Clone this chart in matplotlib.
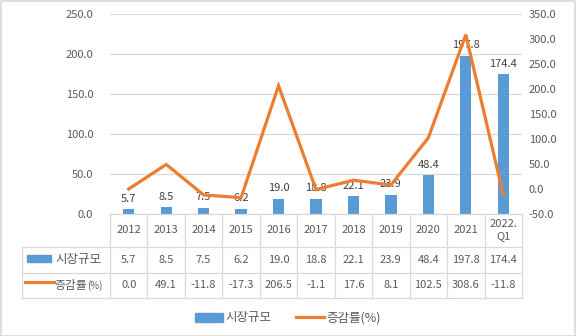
import matplotlib
matplotlib.use("Agg")
import matplotlib.pyplot as plt
from matplotlib.patches import Patch, Rectangle
from matplotlib.lines import Line2D

plt.rcParams['font.family'] = ['Noto Sans CJK KR', 'DejaVu Sans']

# --- data ---
years = ["2012", "2013", "2014", "2015", "2016", "2017", "2018", "2019", "2020", "2021", "2022.\nQ1"]
market_size = [5.7, 8.5, 7.5, 6.2, 19.0, 18.8, 22.1, 23.9, 48.4, 197.8, 174.4]
growth_rate = [0.0, 49.1, -11.8, -17.3, 206.5, -1.1, 17.6, 8.1, 102.5, 308.6, -11.8]

bar_name = "시장규모"
line_name = "증감률(%)"

BLUE = "#5B9BD5"
ORANGE = "#ED7D31"
GRID = "#D9D9D9"
TXT = "#595959"

W, H = 576, 336
fig = plt.figure(figsize=(W / 100, H / 100), dpi=100)

# plot area in pixels
left, right, top, bottom = 110, 522, 14, 214
ax = fig.add_axes([left / W, 1 - bottom / H, (right - left) / W, (bottom - top) / H])
ax2 = ax.twinx()

x = list(range(len(years)))
ax.bar(x, market_size, width=0.3, color=BLUE, zorder=2)
ax2.plot(x, growth_rate, color=ORANGE, linewidth=2.3, solid_joinstyle="miter", zorder=3)

for xi, v in zip(x, market_size):
    ax.annotate(f"{v:.1f}", (xi, v), xytext=(0, 4), textcoords="offset points",
                ha="center", va="bottom", fontsize=8, color="#404040", zorder=4)

ax.set_xlim(-0.5, len(years) - 0.5)
ax.set_ylim(0, 250)
ax.set_yticks(range(0, 251, 50))
ax.set_yticklabels([f"{v:.1f}" for v in range(0, 251, 50)])
ax2.set_ylim(-50, 350)
ax2.set_yticks(range(-50, 351, 50))
ax2.set_yticklabels([f"{v:.1f}" for v in range(-50, 351, 50)])

for a in (ax, ax2):
    for s in a.spines.values():
        s.set_visible(False)
    a.tick_params(length=0, labelsize=8, labelcolor=TXT)
ax.tick_params(axis="y", pad=12)
ax2.tick_params(axis="y", pad=5)
ax.set_xticks([])
ax.grid(axis="y", color=GRID, linewidth=0.9, zorder=0)
ax.set_axisbelow(True)
ax2.set_zorder(ax.get_zorder() + 1)
ax.patch.set_visible(False)

# --- data table under the plot ---
ph = bottom - top
pw = right - left
def ay(py):
    return (bottom - py) / ph

row_edges = [214, 247, 273, 298]
row_mid = [230, 260, 285]
label_left = (22 - left) / pw

line_kw = dict(color=GRID, linewidth=0.9, clip_on=False, transform=ax.transAxes)
ax.plot([0, 1], [0, 0], **line_kw)
for py in row_edges[1:]:
    ax.plot([label_left, 1], [ay(py), ay(py)], **line_kw)
ax.plot([label_left, label_left], [ay(247), ay(298)], **line_kw)
for i in range(len(years) + 1):
    xf = i / len(years)
    ax.plot([xf, xf], [0, ay(298)], **line_kw)

xt = ax.get_xaxis_transform()
for xi, yr, ms, gr in zip(x, years, market_size, growth_rate):
    ax.text(xi, ay(row_mid[0]), yr, transform=xt, ha="center", va="center",
            fontsize=8, color=TXT, linespacing=1.3, clip_on=False)
    ax.text(xi, ay(row_mid[1]), f"{ms:.1f}", transform=xt, ha="center", va="center",
            fontsize=8, color=TXT, clip_on=False)
    ax.text(xi, ay(row_mid[2]), f"{gr:.1f}", transform=xt, ha="center", va="center",
            fontsize=8, color=TXT, clip_on=False)

# row labels with legend keys
ax.add_patch(Rectangle(((27 - left) / pw, ay(262)), 24 / pw, 7 / ph, transform=ax.transAxes,
                       color=BLUE, clip_on=False))
ax.text((55 - left) / pw, ay(row_mid[1]), bar_name, transform=ax.transAxes, ha="left",
        va="center", fontsize=9, color=TXT, clip_on=False)
ax.plot([(25 - left) / pw, (54 - left) / pw], [ay(282), ay(282)], color=ORANGE,
        linewidth=2.3, transform=ax.transAxes, clip_on=False)
rate_lbl = ax.text((54 - left) / pw, ay(row_mid[2]), "증감률", transform=ax.transAxes,
                   ha="left", va="center", fontsize=8.5, color=TXT, clip_on=False)
ax.annotate("(%)", xy=(1, 0.5), xycoords=rate_lbl, xytext=(0.5, -0.5),
            textcoords="offset points", ha="left", va="center", fontsize=7, color=TXT,
            annotation_clip=False)

# --- legend ---
handles = [Patch(color=BLUE, label=bar_name),
           Line2D([0], [0], color=ORANGE, linewidth=2.3, label=line_name)]
fig.legend(handles=handles, loc="center", bbox_to_anchor=(0.5, 18 / H), ncol=2,
           frameon=False, fontsize=9, labelcolor=TXT, handlelength=2.2,
           handletextpad=0.2, columnspacing=2.0)

# outer chart border
fig.patches.append(Rectangle((0.5 / W, 0.5 / H), 1 - 1.5 / W, 1 - 1.5 / H,
                             transform=fig.transFigure, fill=False,
                             edgecolor=GRID, linewidth=1.2))

fig.savefig("out.png", dpi=100, facecolor="white")
